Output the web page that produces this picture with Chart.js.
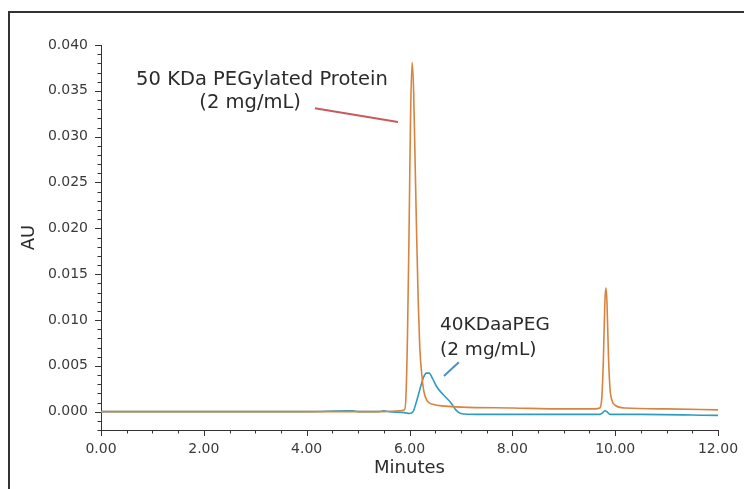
<!DOCTYPE html>
<html>
<head>
<meta charset="utf-8">
<script src="https://cdn.jsdelivr.net/npm/chart.js@4"></script>
<style>
  html, body { margin: 0; padding: 0; background: #fff; }
  #wrap { width: 744px; height: 489px; }
</style>
</head>
<body>
<div id="wrap"><canvas id="chromatogram" width="744" height="489"></canvas></div>
<script>
// retention time (min) / absorbance (AU)
const proteinTimes = [0, 1, 2, 3, 4, 5, 5.5, 5.8, 5.9, 5.93, 5.96, 5.99, 6.02, 6.05, 6.08, 6.11, 6.14, 6.17, 6.2, 6.24, 6.28, 6.34, 6.45, 6.7, 7, 8, 9, 9.6, 9.7, 9.74, 9.77, 9.8, 9.82, 9.84, 9.87, 9.9, 9.94, 10, 10.2, 11, 12];
const proteinAU = [0, 0, 0, 0, 0, 0, 0, 0.0001, 0.0002, 0.0015, 0.008, 0.019, 0.032, 0.0381, 0.035, 0.027, 0.019, 0.012, 0.007, 0.004, 0.0022, 0.0012, 0.0008, 0.0006, 0.0005, 0.0004, 0.0003, 0.0003, 0.0004, 0.0015, 0.0055, 0.012, 0.0135, 0.012, 0.006, 0.0025, 0.0012, 0.0007, 0.0004, 0.0003, 0.0002];

const pegTimes = [0, 2, 4, 4.8, 4.9, 5, 5.4, 5.5, 5.6, 5.9, 6, 6.07, 6.12, 6.2, 6.27, 6.33, 6.38, 6.45, 6.52, 6.6, 6.7, 6.8, 6.9, 7, 7.3, 8, 9, 9.7, 9.76, 9.8, 9.84, 9.9, 10.5, 12];
const pegAU = [0, 0, 0, 0.0001, 0.0001, 0, 0, 0.0001, 0, -0.0001, -0.0002, 0, 0.0008, 0.0024, 0.0037, 0.0042, 0.0042, 0.0036, 0.0028, 0.0022, 0.0016, 0.001, 0.0002, -0.0002, -0.0003, -0.0003, -0.0003, -0.0003, -0.0001, 0.0001, 0, -0.0003, -0.0003, -0.0004];

const yTicksMajor = 0.005;
const xTicksMajor = 2;

function toPoints(times, values) {
  return times.map((t, i) => ({ x: t, y: values[i] }));
}

const font = "'DejaVu Sans', Verdana, sans-serif";

// frame + minor/major ticks + callouts
const decorations = {
  id: 'decorations',
  beforeDraw(chart) {
    const ctx = chart.ctx;
    ctx.save();
    ctx.strokeStyle = '#333';
    ctx.lineWidth = 2;
    ctx.strokeRect(9, 12, 800, 800);
    ctx.restore();
  },
  afterDraw(chart) {
    const ctx = chart.ctx;
    const xs = chart.scales.x;
    const ys = chart.scales.y;
    ctx.save();
    ctx.strokeStyle = '#333';
    ctx.lineWidth = 1;
    ys.ticks.forEach(t => {
      const p = Math.round(ys.getPixelForValue(t.value)) + 0.5;
      const len = t.label ? 6 : 3.5;
      ctx.beginPath();
      ctx.moveTo(ys.right - len, p);
      ctx.lineTo(ys.right, p);
      ctx.stroke();
    });
    xs.ticks.forEach(t => {
      const p = Math.round(xs.getPixelForValue(t.value)) + 0.5;
      const len = t.label ? 6 : 3.5;
      ctx.beginPath();
      ctx.moveTo(p, xs.top);
      ctx.lineTo(p, xs.top + len);
      ctx.stroke();
    });

    const px = v => xs.getPixelForValue(v);
    const py = v => ys.getPixelForValue(v);

    ctx.fillStyle = '#2b2b2b';
    ctx.textBaseline = 'middle';
    ctx.textAlign = 'center';
    ctx.font = '19.5px ' + font;
    ctx.fillText('50 KDa PEGylated Protein', px(3.13), py(0.0362));
    ctx.fillText('(2 mg/mL)', px(2.9), py(0.0337));
    ctx.textAlign = 'left';
    ctx.font = '18.5px ' + font;
    ctx.fillText('40KDaaPEG', px(6.593), py(0.00945));
    ctx.fillText('(2 mg/mL)', px(6.593), py(0.00673));

    ctx.lineWidth = 2;
    ctx.strokeStyle = '#c75b5b';
    ctx.beginPath();
    ctx.moveTo(px(4.16), py(0.0331));
    ctx.lineTo(px(5.776), py(0.0316));
    ctx.stroke();
    ctx.strokeStyle = '#4a8fd0';
    ctx.beginPath();
    ctx.moveTo(px(6.67), py(0.0039));
    ctx.lineTo(px(6.96), py(0.0054));
    ctx.stroke();
    ctx.restore();
  }
};

const canvas = document.getElementById('chromatogram');

new Chart(canvas, {
  type: 'line',
  data: {
    datasets: [
      {
        label: '50 KDa PEGylated Protein',
        data: toPoints(proteinTimes, proteinAU),
        borderColor: '#d8843f',
        borderWidth: 1.6,
        pointRadius: 0,
        cubicInterpolationMode: 'monotone',
      },
      {
        label: '40KDaaPEG',
        data: toPoints(pegTimes, pegAU),
        borderColor: '#2e9cc0',
        borderWidth: 1.6,
        pointRadius: 0,
        cubicInterpolationMode: 'monotone',
      },
    ],
  },
  options: {
    responsive: false,
    animation: false,
    devicePixelRatio: 1,
    layout: { padding: { left: 19, top: 45, right: 26, bottom: 0 } },
    plugins: {
      legend: { display: false },
      tooltip: { enabled: false },
    },
    scales: {
      x: {
        type: 'linear',
        min: 0,
        max: 12,
        grid: { display: false },
        border: { display: true, color: '#333', width: 1 },
        afterFit: scale => { scale.height = 59; },
        ticks: {
          stepSize: 0.5,
          autoSkip: false,
          maxRotation: 0,
          padding: 3,
          color: '#3a3a3a',
          font: { family: font, size: 14 },
          callback: v => (Math.abs(v % xTicksMajor) < 1e-6 ? v.toFixed(2) : ''),
        },
        title: {
          display: true,
          text: 'Minutes',
          color: '#2b2b2b',
          font: { family: font, size: 18 },
          padding: { top: 0, bottom: 10 },
        },
      },
      y: {
        min: -0.002,
        max: 0.04,
        grid: { display: false },
        border: { display: true, color: '#333', width: 1 },
        afterFit: scale => { scale.width = 82; },
        ticks: {
          stepSize: 0.001,
          autoSkip: false,
          padding: 5,
          color: '#3a3a3a',
          font: { family: font, size: 14 },
          callback: v => (Math.round(v * 1000) % (yTicksMajor * 1000) === 0 && v >= 0 ? v.toFixed(3) : ''),
        },
        title: {
          display: true,
          text: 'AU',
          color: '#2b2b2b',
          font: { family: font, size: 18 },
          padding: { top: 0, bottom: 4 },
        },
      },
    },
  },
  plugins: [decorations],
});
</script>
</body>
</html>
